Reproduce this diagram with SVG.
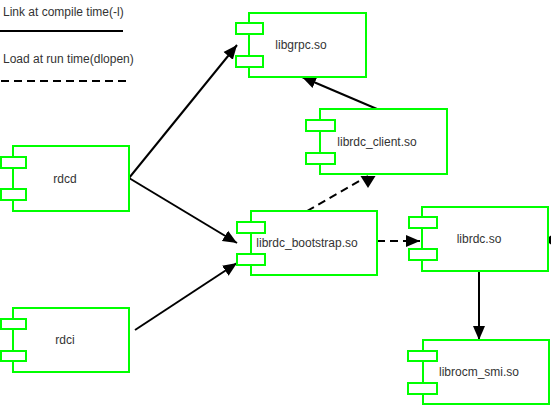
<svg xmlns="http://www.w3.org/2000/svg" width="551" height="420" viewBox="0 0 551 420">
<style>
.box{fill:#fff;stroke:#00ff00;stroke-width:2}
.port{fill:#fff;stroke:#00ff00;stroke-width:2}
.lbl{font-family:"Liberation Sans",Arial,sans-serif;font-size:12px;fill:#333;text-anchor:middle}
.leg{font-family:"Liberation Sans",Arial,sans-serif;font-size:12px;fill:#333}
.solid{fill:none;stroke:#000;stroke-width:2}
.dash{fill:none;stroke:#000;stroke-width:2;stroke-dasharray:8 5}
</style>
<defs>
<marker id="ah" markerUnits="userSpaceOnUse" markerWidth="16" markerHeight="14" refX="14" refY="7" orient="auto">
<path d="M0,1 L14,7 L0,13 Z" fill="#000"/>
</marker>
<marker id="ahdown" markerUnits="userSpaceOnUse" markerWidth="16" markerHeight="16" refX="0" refY="7.5" orient="90">
<path d="M0,0 L12,7.5 L0,15 Z" fill="#000"/>
</marker>
</defs>
<g id="legend">
<text class="leg" x="3" y="16">Link at compile time(-l)</text>
<line class="solid" x1="0" y1="31" x2="123" y2="31"/>
<text class="leg" x="3" y="63">Load at run time(dlopen)</text>
<line class="dash" x1="1" y1="81" x2="128" y2="81"/>
</g>
<g id="connectors">
<line class="solid" x1="129" y1="178" x2="237" y2="45" marker-end="url(#ah)"/>
<line class="solid" x1="129" y1="178" x2="237" y2="243" marker-end="url(#ah)"/>
<line class="solid" x1="135" y1="330" x2="237" y2="263" marker-end="url(#ah)"/>
<line class="solid" x1="377" y1="109" x2="302" y2="77" marker-end="url(#ah)"/>
<line class="dash" x1="307" y1="211" x2="368" y2="176" marker-end="url(#ahdown)"/>
<line class="dash" x1="377" y1="241" x2="420" y2="241" marker-end="url(#ah)"/>
<line class="solid" x1="479" y1="271" x2="479" y2="340" marker-end="url(#ah)"/>
<ellipse cx="553" cy="240" rx="5" ry="5" fill="#000"/>
</g>
<g id="libgrpc">
<rect class="box" x="249" y="13" width="117" height="64"/>
<rect class="port" x="236" y="23" width="27" height="11"/>
<rect class="port" x="236" y="56" width="27" height="11"/>
<text class="lbl" x="301" y="49">libgrpc.so</text>
</g>
<g id="librdc_client">
<rect class="box" x="320" y="109" width="127" height="65"/>
<rect class="port" x="306" y="120" width="29" height="11"/>
<rect class="port" x="306" y="153" width="29" height="11"/>
<text class="lbl" x="377" y="146">librdc_client.so</text>
</g>
<g id="rdcd">
<rect class="box" x="13" y="146" width="116" height="65"/>
<rect class="port" x="1" y="157" width="25" height="11"/>
<rect class="port" x="1" y="189" width="25" height="11"/>
<text class="lbl" x="65" y="183">rdcd</text>
</g>
<g id="librdc_bootstrap">
<rect class="box" x="251" y="211" width="126" height="64"/>
<rect class="port" x="237" y="222" width="28" height="11"/>
<rect class="port" x="237" y="254" width="28" height="11"/>
<text class="lbl" x="307" y="247">librdc_bootstrap.so</text>
</g>
<g id="librdc">
<rect class="box" x="422" y="207" width="126" height="64"/>
<rect class="port" x="409" y="217" width="28" height="11"/>
<rect class="port" x="409" y="249" width="28" height="11"/>
<text class="lbl" x="479" y="243">librdc.so</text>
</g>
<g id="rdci">
<rect class="box" x="13" y="308" width="116" height="64"/>
<rect class="port" x="1" y="319" width="25" height="10"/>
<rect class="port" x="1" y="351" width="25" height="10"/>
<text class="lbl" x="65" y="344">rdci</text>
</g>
<g id="librocm_smi">
<rect class="box" x="423" y="340" width="126" height="64"/>
<rect class="port" x="408" y="351" width="29" height="10"/>
<rect class="port" x="408" y="383" width="29" height="11"/>
<text class="lbl" x="479" y="376">librocm_smi.so</text>
</g>
</svg>
